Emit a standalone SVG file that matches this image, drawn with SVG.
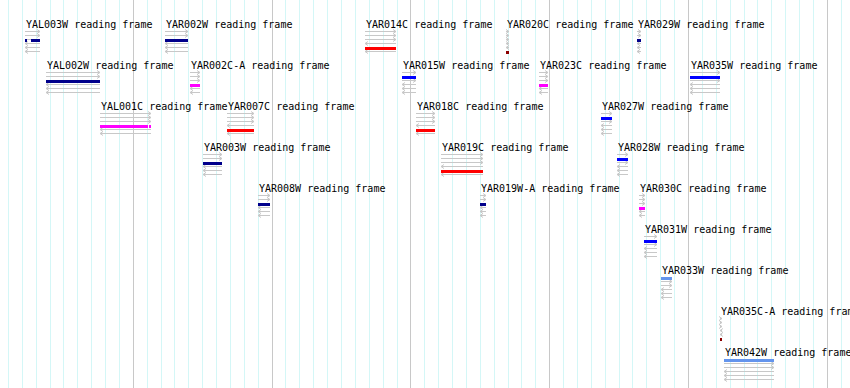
<svg xmlns="http://www.w3.org/2000/svg" width="850" height="388" viewBox="0 0 850 388">
<style>
text{font-family:"DejaVu Sans Mono","Liberation Mono",monospace;font-size:10px;fill:#000;transform:translate(1px,0)}
.minor{stroke:#d4f7f7;stroke-width:1;fill:none}
.major{stroke:#c8c8c8;stroke-width:1;fill:none}
.t path{stroke:#c8c8c8;stroke-width:1;fill:none;marker-end:url(#ah)}
.plain{stroke:#c8c8c8;stroke-width:1;fill:none}
.f1{fill:#6495ED}.f2{fill:#0000FF}.f3{fill:#00008B}.f4{fill:#FF00FF}.f5{fill:#FF0000}.f6{fill:#8B0000}
</style>
<defs>
<marker id="ah" viewBox="-4 -3 5 6" refX="0" refY="0" markerWidth="5" markerHeight="6" markerUnits="userSpaceOnUse" orient="auto"><path d="M-3,-2L0,0L-3,2" fill="none" stroke="#c8c8c8" stroke-width="1"/></marker>
</defs>
<rect width="850" height="388" fill="#fff"/>
<g id="grid">
<path class="minor" d="M8.5 0V388M22.5 0V388M36.5 0V388M50.5 0V388M63.5 0V388M77.5 0V388M91.5 0V388M105.5 0V388M119.5 0V388M147.5 0V388M161.5 0V388M174.5 0V388M188.5 0V388M202.5 0V388M216.5 0V388M230.5 0V388M244.5 0V388M258.5 0V388M285.5 0V388M299.5 0V388M313.5 0V388M327.5 0V388M341.5 0V388M355.5 0V388M369.5 0V388M383.5 0V388M397.5 0V388M424.5 0V388M438.5 0V388M452.5 0V388M466.5 0V388M480.5 0V388M494.5 0V388M508.5 0V388M521.5 0V388M535.5 0V388M563.5 0V388M577.5 0V388M591.5 0V388M605.5 0V388M619.5 0V388M632.5 0V388M646.5 0V388M660.5 0V388M674.5 0V388M702.5 0V388M716.5 0V388M730.5 0V388M744.5 0V388M757.5 0V388M771.5 0V388M785.5 0V388M799.5 0V388M813.5 0V388M841.5 0V388"/>
<path class="major" d="M133.5 0V388M272.5 0V388M410.5 0V388M549.5 0V388M688.5 0V388M827.5 0V388"/>
</g>
<g id="YAL003W"><text x="25" y="28">YAL003W reading frame</text><g class="t"><path d="M25 31.5H40"/><path d="M25 35.5H40"/><path d="M40 43.5H25"/><path d="M40 47.5H25"/><path d="M40 51.5H25"/></g><path class="plain" d="M27 39.5H31"/><rect class="f3" x="25" y="39" width="2" height="3"/><rect class="f3" x="31" y="39" width="9" height="3"/></g>
<g id="YAR002W"><text x="165" y="28">YAR002W reading frame</text><g class="t"><path d="M165 31.5H188"/><path d="M165 35.5H188"/><path d="M188 43.5H165"/><path d="M188 47.5H165"/><path d="M188 51.5H165"/></g><rect class="f3" x="165" y="39" width="23" height="3"/></g>
<g id="YAR014C"><text x="365" y="28">YAR014C reading frame</text><g class="t"><path d="M365 31.5H396"/><path d="M365 35.5H396"/><path d="M365 39.5H396"/><path d="M396 43.5H365"/><path d="M396 51.5H365"/></g><rect class="f5" x="365" y="47" width="31" height="3"/></g>
<g id="YAR020C"><text x="506" y="28">YAR020C reading frame</text><g class="t"><path d="M506 31.5H509"/><path d="M506 35.5H509"/><path d="M506 39.5H509"/><path d="M509 43.5H506"/><path d="M509 47.5H506"/></g><rect class="f6" x="506" y="51" width="3" height="3"/></g>
<g id="YAR029W"><text x="637" y="28">YAR029W reading frame</text><g class="t"><path d="M637 31.5H641"/><path d="M637 35.5H641"/><path d="M641 43.5H637"/><path d="M641 47.5H637"/><path d="M641 51.5H637"/></g><rect class="f3" x="637" y="39" width="4" height="3"/></g>
<g id="YAL002W"><text x="46" y="69">YAL002W reading frame</text><g class="t"><path d="M46 72.5H100"/><path d="M46 76.5H100"/><path d="M100 84.5H46"/><path d="M100 88.5H46"/><path d="M100 92.5H46"/></g><rect class="f3" x="46" y="80" width="54" height="3"/></g>
<g id="YAR002C-A"><text x="190" y="69">YAR002C-A reading frame</text><g class="t"><path d="M190 72.5H200"/><path d="M190 76.5H200"/><path d="M190 80.5H200"/><path d="M200 88.5H190"/><path d="M200 92.5H190"/></g><rect class="f4" x="190" y="84" width="10" height="3"/></g>
<g id="YAR015W"><text x="402" y="69">YAR015W reading frame</text><g class="t"><path d="M402 72.5H416"/><path d="M402 80.5H416"/><path d="M416 84.5H402"/><path d="M416 88.5H402"/><path d="M416 92.5H402"/></g><rect class="f2" x="402" y="76" width="14" height="3"/></g>
<g id="YAR023C"><text x="539" y="69">YAR023C reading frame</text><g class="t"><path d="M539 72.5H548"/><path d="M539 76.5H548"/><path d="M539 80.5H548"/><path d="M548 88.5H539"/><path d="M548 92.5H539"/></g><rect class="f4" x="539" y="84" width="9" height="3"/></g>
<g id="YAR035W"><text x="690" y="69">YAR035W reading frame</text><g class="t"><path d="M690 72.5H720"/><path d="M690 80.5H720"/><path d="M720 84.5H690"/><path d="M720 88.5H690"/><path d="M720 92.5H690"/></g><rect class="f2" x="690" y="76" width="30" height="3"/></g>
<g id="YAL001C"><text x="100" y="110">YAL001C reading frame</text><g class="t"><path d="M100 113.5H151"/><path d="M100 117.5H151"/><path d="M100 121.5H151"/><path d="M151 129.5H100"/><path d="M151 133.5H100"/></g><rect class="f4" x="100" y="125" width="48" height="3"/><rect class="f4" x="149" y="125" width="2" height="3"/></g>
<g id="YAR007C"><text x="227" y="110">YAR007C reading frame</text><g class="t"><path d="M227 113.5H254"/><path d="M227 117.5H254"/><path d="M227 121.5H254"/><path d="M254 125.5H227"/><path d="M254 133.5H227"/></g><rect class="f5" x="227" y="129" width="27" height="3"/></g>
<g id="YAR018C"><text x="416" y="110">YAR018C reading frame</text><g class="t"><path d="M416 113.5H435"/><path d="M416 117.5H435"/><path d="M416 121.5H435"/><path d="M435 125.5H416"/><path d="M435 133.5H416"/></g><rect class="f5" x="416" y="129" width="19" height="3"/></g>
<g id="YAR027W"><text x="601" y="110">YAR027W reading frame</text><g class="t"><path d="M601 113.5H612"/><path d="M601 121.5H612"/><path d="M612 125.5H601"/><path d="M612 129.5H601"/><path d="M612 133.5H601"/></g><rect class="f2" x="601" y="117" width="11" height="3"/></g>
<g id="YAR003W"><text x="203" y="151">YAR003W reading frame</text><g class="t"><path d="M203 154.5H222"/><path d="M203 158.5H222"/><path d="M222 166.5H203"/><path d="M222 170.5H203"/><path d="M222 174.5H203"/></g><rect class="f3" x="203" y="162" width="19" height="3"/></g>
<g id="YAR019C"><text x="441" y="151">YAR019C reading frame</text><g class="t"><path d="M441 154.5H483"/><path d="M441 158.5H483"/><path d="M441 162.5H483"/><path d="M483 166.5H441"/><path d="M483 174.5H441"/></g><rect class="f5" x="441" y="170" width="42" height="3"/></g>
<g id="YAR028W"><text x="617" y="151">YAR028W reading frame</text><g class="t"><path d="M617 154.5H628"/><path d="M617 162.5H628"/><path d="M628 166.5H617"/><path d="M628 170.5H617"/><path d="M628 174.5H617"/></g><rect class="f2" x="617" y="158" width="11" height="3"/></g>
<g id="YAR008W"><text x="258" y="192">YAR008W reading frame</text><g class="t"><path d="M258 195.5H270"/><path d="M258 199.5H270"/><path d="M270 207.5H258"/><path d="M270 211.5H258"/><path d="M270 215.5H258"/></g><rect class="f3" x="258" y="203" width="12" height="3"/></g>
<g id="YAR019W-A"><text x="480" y="192">YAR019W-A reading frame</text><g class="t"><path d="M480 195.5H486"/><path d="M480 199.5H486"/><path d="M486 207.5H480"/><path d="M486 211.5H480"/><path d="M486 215.5H480"/></g><rect class="f3" x="480" y="203" width="6" height="3"/></g>
<g id="YAR030C"><text x="639" y="192">YAR030C reading frame</text><g class="t"><path d="M639 195.5H645"/><path d="M639 199.5H645"/><path d="M639 203.5H645"/><path d="M645 211.5H639"/><path d="M645 215.5H639"/></g><rect class="f4" x="639" y="207" width="6" height="3"/></g>
<g id="YAR031W"><text x="644" y="233">YAR031W reading frame</text><g class="t"><path d="M644 236.5H657"/><path d="M644 244.5H657"/><path d="M657 248.5H644"/><path d="M657 252.5H644"/><path d="M657 256.5H644"/></g><rect class="f2" x="644" y="240" width="13" height="3"/></g>
<g id="YAR033W"><text x="661" y="274">YAR033W reading frame</text><g class="t"><path d="M661 281.5H672"/><path d="M661 285.5H672"/><path d="M672 289.5H661"/><path d="M672 293.5H661"/><path d="M672 297.5H661"/></g><rect class="f1" x="661" y="277" width="11" height="3"/></g>
<g id="YAR035C-A"><text x="720" y="315">YAR035C-A reading frame</text><g class="t"><path d="M720 318.5H722"/><path d="M720 322.5H722"/><path d="M720 326.5H722"/><path d="M722 330.5H720"/><path d="M722 334.5H720"/></g><rect class="f6" x="720" y="338" width="2" height="3"/></g>
<g id="YAR042W"><text x="724" y="356">YAR042W reading frame</text><g class="t"><path d="M724 363.5H774"/><path d="M724 367.5H774"/><path d="M774 371.5H724"/><path d="M774 375.5H724"/><path d="M774 379.5H724"/></g><rect class="f1" x="724" y="359" width="50" height="3"/></g>
<g id="connectors"/>
</svg>
